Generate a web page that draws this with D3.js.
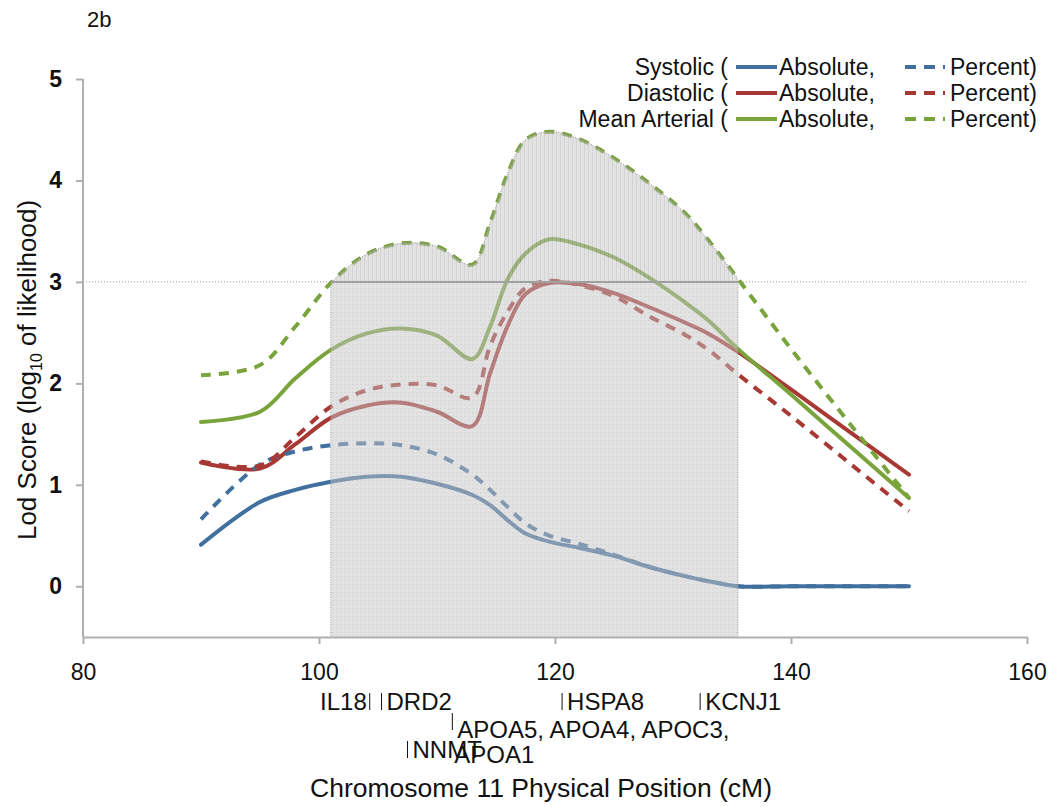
<!DOCTYPE html>
<html>
<head>
<meta charset="utf-8">
<script src="https://cdn.jsdelivr.net/npm/d3@7"></script>
<style>
  html, body { margin: 0; padding: 0; background: #fff; }
  svg { display: block; font-family: Arial, "Liberation Sans", sans-serif; }
</style>
</head>
<body>
<svg id="chart" width="1050" height="807"></svg>
<script>
// ---------- data ----------
const positions = [90, 95, 98, 101, 104, 107, 110, 113, 114.5, 116, 117.5, 119.5, 122, 125, 128, 131, 133, 135.5, 140, 145, 150];

const systolicAbs  = [0.41, 0.83, 0.95, 1.03, 1.08, 1.08, 1.01, 0.90, 0.80, 0.65, 0.52, 0.44, 0.38, 0.30, 0.19, 0.10, 0.05, 0.00, 0.00, 0.00, 0.00];
const systolicPct  = [0.66, 1.20, 1.33, 1.39, 1.41, 1.39, 1.30, 1.10, 0.95, 0.78, 0.62, 0.50, 0.42, 0.31, 0.19, 0.10, 0.05, 0.00, 0.00, 0.00, 0.00];
const diastolicAbs = [1.22, 1.16, 1.40, 1.66, 1.78, 1.81, 1.72, 1.58, 2.10, 2.57, 2.88, 2.99, 2.98, 2.89, 2.75, 2.60, 2.49, 2.31, 1.94, 1.52, 1.10];
const diastolicPct = [1.23, 1.19, 1.47, 1.77, 1.93, 1.99, 1.98, 1.86, 2.37, 2.71, 2.94, 3.01, 2.97, 2.86, 2.66, 2.48, 2.33, 2.09, 1.68, 1.21, 0.74];
const meanAbs      = [1.62, 1.72, 2.05, 2.33, 2.49, 2.54, 2.47, 2.24, 2.56, 3.03, 3.28, 3.42, 3.37, 3.24, 3.04, 2.80, 2.62, 2.34, 1.89, 1.38, 0.87];
const meanPct      = [2.08, 2.18, 2.56, 2.99, 3.27, 3.38, 3.35, 3.17, 3.58, 4.07, 4.40, 4.48, 4.41, 4.22, 3.97, 3.68, 3.41, 3.03, 2.34, 1.60, 0.87];

const seriesNames = ["Systolic", "Diastolic", "Mean Arterial"];
const seriesColors = ["#41709f", "#a83834", "#79a33b"];
const absoluteValues = [systolicAbs, diastolicAbs, meanAbs];
const percentValues = [systolicPct, diastolicPct, meanPct];

const xTicks = [80, 100, 120, 140, 160];
const yTicks = [0, 1, 2, 3, 4, 5];
const lodThreshold = 3;
const regionStart = 101;
const regionEnd = 135.5;

const geneNames = ["IL18", "DRD2", "NNMT", "APOA5, APOA4, APOC3,", "HSPA8", "KCNJ1"];
const genePos   = [104.3, 105.3, 107.5, 111.3, 120.6, 132.3];
const geneRow   = [0, 0, 2, 1, 0, 0];
const geneSide  = ["left", "right", "right", "right", "right", "right"];

// ---------- setup ----------
const svg = d3.select("#chart");
const x = d3.scaleLinear().domain([80, 160]).range([83, 1027]);
const y = d3.scaleLinear().domain([-0.5, 5]).range([637, 79]);

const defs = svg.append("defs");
const pv = defs.append("pattern").attr("id", "vhatch").attr("patternUnits", "userSpaceOnUse")
  .attr("width", 4).attr("height", 4);
pv.append("rect").attr("width", 4).attr("height", 4).attr("fill", "#c4c4c4");
pv.append("rect").attr("x", 0).attr("width", 1).attr("height", 4).attr("fill", "#a8a8a8");
const ph = defs.append("pattern").attr("id", "hdots").attr("patternUnits", "userSpaceOnUse")
  .attr("width", 4).attr("height", 4);
ph.append("rect").attr("width", 4).attr("height", 4).attr("fill", "#c4c4c4");
ph.append("rect").attr("y", 0).attr("width", 2).attr("height", 1).attr("fill", "#acacac");

defs.append("clipPath").attr("id", "clipTop").append("rect")
  .attr("x", x(regionStart)).attr("width", x(regionEnd) - x(regionStart))
  .attr("y", 0).attr("height", y(lodThreshold));
defs.append("clipPath").attr("id", "clipBottom").append("rect")
  .attr("x", x(regionStart)).attr("width", x(regionEnd) - x(regionStart))
  .attr("y", y(lodThreshold)).attr("height", y(-0.5) - y(lodThreshold));
defs.append("clipPath").attr("id", "clipRegion").append("rect")
  .attr("x", x(regionStart)).attr("width", x(regionEnd) - x(regionStart))
  .attr("y", 0).attr("height", y(-0.5));

const curve = d3.curveCatmullRom.alpha(0.5);
const line = d3.line().x(d => x(d[0])).y(d => y(d[1])).curve(curve);
const toPts = vals => positions.map((p, i) => [p, vals[i]]);

// ---------- axes ----------
const yAxis = d3.axisLeft(y).tickValues(yTicks).tickFormat(d3.format("d"))
  .tickSize(7).tickSizeOuter(0).tickPadding(14);
const gy = svg.append("g").attr("transform", `translate(${x(80)},0)`).call(yAxis);
gy.select(".domain").attr("stroke", "#b0b0b0").attr("stroke-width", 2)
  .attr("d", `M0,${y(5)}V${y(-0.5)}`);
gy.selectAll(".tick line").attr("stroke", "#b0b0b0").attr("stroke-width", 2);
gy.selectAll(".tick text").attr("font-size", 23).attr("font-weight", "bold").attr("fill", "#111")
  .attr("font-family", "Arial, 'Liberation Sans', sans-serif");

const xAxis = d3.axisBottom(x).tickValues(xTicks).tickSize(7).tickSizeOuter(0).tickPadding(20);
const gx = svg.append("g").attr("transform", `translate(0,${y(-0.5)})`).call(xAxis);
gx.select(".domain").attr("stroke", "#b0b0b0").attr("stroke-width", 2);
gx.selectAll(".tick line").attr("stroke", "#b0b0b0").attr("stroke-width", 2);
gx.selectAll(".tick text").attr("font-size", 23).attr("fill", "#111")
  .attr("font-family", "Arial, 'Liberation Sans', sans-serif");

// threshold dotted line across the plot
svg.append("line")
  .attr("x1", x(80)).attr("x2", x(160)).attr("y1", y(lodThreshold)).attr("y2", y(lodThreshold))
  .attr("stroke", "#999").attr("stroke-width", 1).attr("stroke-dasharray", "1,2");

// ---------- lines ----------
const gLines = svg.append("g");
seriesNames.forEach((n, i) => {
  gLines.append("path").datum(toPts(absoluteValues[i])).attr("d", line)
    .attr("fill", "none").attr("stroke", seriesColors[i]).attr("stroke-width", 4)
    .attr("stroke-linecap", "round");
});
seriesNames.forEach((n, i) => {
  gLines.append("path").datum(toPts(percentValues[i])).attr("d", line)
    .attr("fill", "none").attr("stroke", seriesColors[i]).attr("stroke-width", 4)
    .attr("stroke-dasharray", "10,8").attr("stroke-linecap", "butt");
});

// ---------- shaded region (drawn over the lines, semi-transparent) ----------
const area = d3.area().x(d => x(d[0])).y0(y(-0.5)).y1(d => y(d[1])).curve(curve);
const shadePts = toPts(meanPct);
svg.append("path").datum(shadePts).attr("d", area).attr("clip-path", "url(#clipTop)")
  .attr("fill", "url(#vhatch)").attr("opacity", 0.5);
svg.append("path").datum(shadePts).attr("d", area).attr("clip-path", "url(#clipBottom)")
  .attr("fill", "url(#hdots)").attr("opacity", 0.5);
// outline (dotted)
svg.append("path").datum(shadePts).attr("d", line).attr("clip-path", "url(#clipRegion)")
  .attr("fill", "none").attr("stroke", "#888").attr("stroke-width", 1).attr("stroke-dasharray", "1,1.5");
[regionStart, regionEnd].forEach(v => {
  svg.append("line").attr("x1", x(v)).attr("x2", x(v)).attr("y1", y(lodThreshold)).attr("y2", y(-0.5))
    .attr("stroke", "#999").attr("stroke-width", 1).attr("stroke-dasharray", "1,1.5");
});
svg.append("line").attr("x1", x(regionStart)).attr("x2", x(regionEnd))
  .attr("y1", y(lodThreshold)).attr("y2", y(lodThreshold))
  .attr("stroke", "#a0a0a0").attr("stroke-width", 2);

// ---------- legend ----------
const legendRows = [75, 101, 127];
const lg = svg.append("g").attr("font-size", 23).attr("fill", "#111");
seriesNames.forEach((n, i) => {
  const yy = legendRows[i];
  lg.append("text").attr("x", 728).attr("y", yy).attr("text-anchor", "end").text(n + " (");
  lg.append("line").attr("x1", 736).attr("x2", 777).attr("y1", yy - 8).attr("y2", yy - 8)
    .attr("stroke", seriesColors[i]).attr("stroke-width", 4);
  lg.append("text").attr("x", 779).attr("y", yy).text("Absolute,");
  lg.append("line").attr("x1", 905).attr("x2", 945).attr("y1", yy - 8).attr("y2", yy - 8)
    .attr("stroke", seriesColors[i]).attr("stroke-width", 4).attr("stroke-dasharray", "11,8");
  lg.append("text").attr("x", 950).attr("y", yy).text("Percent)");
});

// ---------- titles ----------
svg.append("text").attr("x", 87).attr("y", 27).attr("font-size", 22).attr("fill", "#111").text("2b");

const yt = svg.append("text").attr("transform", `translate(36,${370}) rotate(-90)`)
  .attr("text-anchor", "middle").attr("font-size", 26).attr("fill", "#111");
yt.append("tspan").text("Lod Score (log");
yt.append("tspan").attr("font-size", 16).attr("dy", 6).text("10");
yt.append("tspan").attr("dy", -6).text(" of likelihood)");

svg.append("text").attr("x", 541).attr("y", 797).attr("text-anchor", "middle")
  .attr("font-size", 26.5).attr("fill", "#111").text("Chromosome 11 Physical Position (cM)");

// ---------- gene labels ----------
const rowBase = [710, 738, 758];
const gg = svg.append("g").attr("font-size", 24).attr("fill", "#111");
geneNames.forEach((g, i) => {
  const bx = x(genePos[i]);
  const by = rowBase[geneRow[i]];
  const barTop = geneRow[i] === 1 ? by - 25 : by - 17;
  gg.append("line").attr("x1", bx).attr("x2", bx).attr("y1", barTop).attr("y2", barTop + 17)
    .attr("stroke", "#111").attr("stroke-width", 1);
  if (geneSide[i] === "left") {
    gg.append("text").attr("x", bx - 3).attr("y", by).attr("text-anchor", "end").text(g);
  } else {
    gg.append("text").attr("x", bx + 5).attr("y", by).text(g);
  }
});
// continuation of the APOA cluster label (overlaps NNMT as in the original figure)
gg.append("text").attr("x", x(genePos[3]) + 2).attr("y", 763).text("APOA1");
</script>
</body>
</html>
